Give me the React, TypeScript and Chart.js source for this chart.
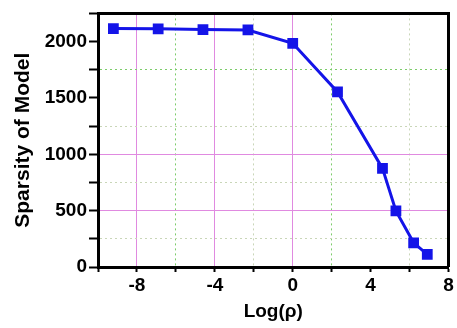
import React, { useEffect, useRef } from "react";
import { Chart, registerables } from "chart.js";

Chart.register(...registerables);

const logRho = [-9.21, -6.91, -4.61, -2.3, 0, 2.3, 4.61, 5.3, 6.21, 6.91];
const sparsity = [2115, 2113, 2107, 2103, 1985, 1553, 875, 498, 215, 112];
const xTickLabels = [-8, -4, 0, 4, 8];
const yTickLabels = [0, 500, 1000, 1500, 2000];
const xMajorGrid = [-8, -4, 0];
const yMajorGrid = [500, 1000];

const FONT = "'Liberation Sans', Arial, sans-serif";
const MAGENTA = "#e08ae0";
const GREEN = "#7ccc6a";
const FAINT = "#c9d6b8";

const framePlugin = {
  id: "frame",
  afterDraw(chart: any) {
    const { ctx, chartArea } = chart;
    ctx.save();
    ctx.strokeStyle = "#000";
    ctx.lineWidth = 3;
    ctx.beginPath();
    ctx.moveTo(chartArea.left, chartArea.top);
    ctx.lineTo(chartArea.right, chartArea.top);
    ctx.lineTo(chartArea.right, chartArea.bottom);
    ctx.stroke();
    ctx.restore();
  },
};

export default function App() {
  const ref = useRef<HTMLCanvasElement>(null);
  useEffect(() => {
    document.body.style.margin = "0";
    const chart = new Chart(ref.current!, {
      type: "line",
      data: {
        datasets: [
          {
            data: logRho.map((x, i) => ({ x, y: sparsity[i] })),
            borderColor: "#1414e8",
            backgroundColor: "#1414e8",
            borderWidth: 3,
            pointStyle: "rect",
            pointRadius: 5.5,
            pointHoverRadius: 5.5,
            tension: 0,
          },
        ],
      },
      options: {
        animation: false,
        responsive: true,
        maintainAspectRatio: false,
        layout: { padding: { top: 5, right: 6, left: 0, bottom: 0 } },
        plugins: { legend: { display: false }, tooltip: { enabled: false } },
        scales: {
          x: {
            type: "linear",
            min: -10,
            max: 8,
            afterFit: (s: any) => {
              s.height = 61;
            },
            ticks: {
              stepSize: 2,
              padding: 2,
              color: "#000",
              font: { family: FONT, size: 19, weight: "bold" },
              callback: (v: any) => (xTickLabels.includes(v) ? String(v) : ""),
            },
            grid: {
              drawOnChartArea: true,
              tickLength: 5,
              tickWidth: 2,
              tickColor: "#000",
              lineWidth: 1,
              color: (c: any) => {
                const v = c.tick?.value;
                if (xMajorGrid.includes(v)) return MAGENTA;
                if (v === 2 || v === -6) return GREEN;
                if (v === -2 || v === 6) return FAINT;
                return "rgba(0,0,0,0)";
              },
            },
            border: {
              color: "#000",
              width: 3,
              dash: (c: any) => {
                const v = c.tick?.value;
                return xMajorGrid.includes(v) ? [] : [2, 3];
              },
            },
            title: {
              display: true,
              text: "Log(ρ)",
              color: "#000",
              font: { family: FONT, size: 19, weight: "bold" },
              padding: { top: 0, bottom: 5 },
            },
          },
          y: {
            min: 0,
            max: 2250,
            afterFit: (s: any) => {
              s.width = 98;
            },
            ticks: {
              stepSize: 250,
              padding: 2,
              color: "#000",
              font: { family: FONT, size: 19, weight: "bold" },
              callback: (v: any) => (yTickLabels.includes(v) ? String(v) : ""),
            },
            grid: {
              tickLength: 9,
              tickWidth: 2,
              tickColor: "#000",
              lineWidth: 1,
              color: (c: any) => {
                const v = c.tick?.value;
                if (yMajorGrid.includes(v)) return MAGENTA;
                if (v === 1750) return GREEN;
                if (v === 250 || v === 750 || v === 1250) return FAINT;
                return "rgba(0,0,0,0)";
              },
            },
            border: {
              color: "#000",
              width: 3,
              dash: (c: any) => {
                const v = c.tick?.value;
                return yMajorGrid.includes(v) ? [] : [2, 3];
              },
            },
            title: {
              display: true,
              text: "Sparsity of Model",
              color: "#000",
              font: { family: FONT, size: 21, weight: "bold" },
              padding: { top: 11, bottom: 0 },
            },
          },
        },
      },
      plugins: [framePlugin],
    });
    return () => chart.destroy();
  }, []);
  return (
    <div style={{ position: "relative", width: 457, height: 328 }}>
      <canvas ref={ref} />
    </div>
  );
}
